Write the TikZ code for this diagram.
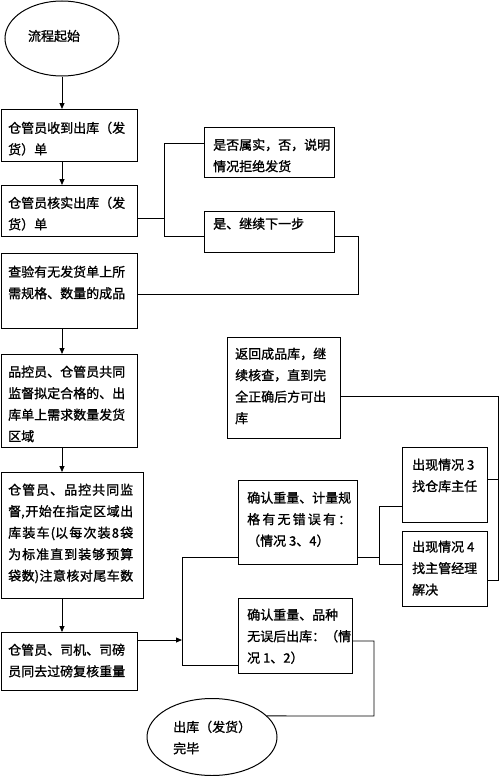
\documentclass[tikz,border=0pt]{standalone}
\usepackage{fontspec}
\newfontfamily\cjk[FakeBold=1.2]{Noto Sans CJK SC}
\usetikzlibrary{shapes.geometric,arrows.meta}
\newcommand\spreadline[2]{\makebox[#1][s]{#2}}
\begin{document}
\begin{tikzpicture}[x=1pt,y=-1pt,
  box/.style={draw, line width=1pt, rectangle, inner sep=0, anchor=north west},
  oval/.style={draw, line width=1pt, ellipse, inner sep=0},
  txt/.style={font=\cjk\fontsize{13}{21.5}\selectfont, align=left, anchor=north west, inner sep=0},
  conn/.style={line width=0.8pt},
  arr/.style={line width=0.8pt, -{Triangle[length=6pt,width=5pt]}}]
\useasboundingbox (0,0) rectangle (500,776);
% shapes
\node[oval, minimum width=114, minimum height=75] (start) at (62,38.5) {};
\node[box, minimum width=136, minimum height=52] (b1) at (1,109) {};
\node[box, minimum width=136, minimum height=51] (b2) at (1,185) {};
\node[box, minimum width=136, minimum height=75] (b3) at (1,253) {};
\node[box, minimum width=136, minimum height=93] (b4) at (1,354) {};
\node[box, minimum width=142, minimum height=126] (b5) at (1,472) {};
\node[box, minimum width=136, minimum height=58] (b6) at (1,632) {};
\node[box, minimum width=130, minimum height=50] (A) at (204,127) {};
\node[box, minimum width=130, minimum height=41] (B) at (204,211) {};
\node[box, minimum width=113, minimum height=101] (G) at (227,337) {};
\node[box, minimum width=119, minimum height=84] (C) at (238,480) {};
\node[box, minimum width=114, minimum height=75] (D) at (238,598) {};
\node[box, minimum width=85, minimum height=75] (E) at (402,447) {};
\node[box, minimum width=85, minimum height=75] (F) at (402,531) {};
\node[oval, minimum width=130, minimum height=77] (end) at (212,737) {};
% texts
\node[txt, anchor=center] (tstart) at (54,36) {流程起始};
\node[txt] (t1) at (8,121.5) {仓管员收到出库（发\\货）单};
\node[txt] (t2) at (8,196.5) {仓管员核实出库（发\\货）单};
\node[txt] (t3) at (8,265.5) {查验有无发货单上所\\需规格、数量的成品};
\node[txt] (t4) at (8,365.5) {品控员、仓管员共同\\监督拟定合格的、出\\库单上需求数量发货\\区域};
\node[txt] (t5) at (8,483.5) {\spreadline{125pt}{仓\hfill 管\hfill 员\hfill 、\hfill 品\hfill 控\hfill 共\hfill 同\hfill 监}\\\spreadline{125pt}{督,\hfill 开\hfill 始\hfill 在\hfill 指\hfill 定\hfill 区\hfill 域\hfill 出}\\\spreadline{125pt}{库\hfill 装\hfill 车\hfill (以\hfill 每\hfill 次\hfill 装\hfill 8\hfill 袋}\\\spreadline{125pt}{为\hfill 标\hfill 准\hfill 直\hfill 到\hfill 装\hfill 够\hfill 预\hfill 算}\\\spreadline{125pt}{袋\hfill 数)\hfill 注\hfill 意\hfill 核\hfill 对\hfill 尾\hfill 车\hfill 数}};
\node[txt] (t6) at (8,643.5) {仓管员、司机、司磅\\员同去过磅复核重量};
\node[txt] (tA) at (213,138.5) {是否属实，否，说明\\情况拒绝发货};
\node[txt] (tB) at (213,217.5) {是、继续下一步};
\node[txt] (tG) at (235,347.5) {返回成品库，继\\续核查，直到完\\全正确后方可出\\库};
\node[txt] (tC) at (247,491.5) {确认重量、计量规\\\spreadline{104pt}{格\hfill 有\hfill 无\hfill 错\hfill 误\hfill 有\hfill ：}\\（情况 3、4）};
\node[txt] (tD) at (247,608.5) {确认重量、品种\\无误后出库：（情\\况 1、2）};
\node[txt] (tE) at (412,458.5) {出现情况 3\\找仓库主任};
\node[txt] (tF) at (412,540.5) {出现情况 4\\找主管经理\\解决};
\node[txt] (tend) at (173,720.5) {出库（发货）\\完毕};
% main column arrows
\coordinate (ax) at (62,0);
\draw[arr] (start.south) -- (start.south |- b1.north);
\draw[arr] (b1.south -| ax) -- (b2.north -| ax);
\draw[arr] (b3.south -| ax) -- (b4.north -| ax);
\draw[arr] (b4.south -| ax) -- (b5.north -| ax);
\draw[arr] (b5.south -| ax) -- (b6.north -| ax);
% verify branch
\coordinate (j1) at (164,218);
\coordinate (jA) at (164,143);
\coordinate (jB) at (164,236);
\draw[conn] (b2.east |- j1) -- (j1);
\draw[conn] (A.west |- jA) -- (jA) -- (jB) -- (B.west |- jB);
\coordinate (k1) at (358,236);
\coordinate (k2) at (358,294);
\draw[conn] (B.east |- k1) -- (k1) -- (k2) -- (b3.east |- k2);
% weighing branch
\coordinate (m1) at (182,640);
\coordinate (m2) at (182,557);
\coordinate (m3) at (182,665);
\draw[arr] (b6.east |- m1) -- (m1);
\draw[conn] (C.west |- m2) -- (m2) -- (m3) -- (D.west |- m3);
\coordinate (n0) at (379,557);
\coordinate (n1) at (379,506);
\coordinate (n2) at (379,564);
\draw[conn] (C.east |- n0) -- (n0);
\draw[conn] (E.west |- n1) -- (n1) -- (n2) -- (F.west |- n2);
\coordinate (p0) at (498,396);
\coordinate (p1) at (498,479);
\coordinate (p2) at (498,580);
\draw[conn] (E.east |- p1) -- (p1);
\draw[conn] (F.east |- p2) -- (p2) -- (p0) -- (G.east |- p0);
\coordinate (q1) at (374,641);
\coordinate (q2) at (374,716);
\draw[conn] (D.east |- q1) -- (q1) -- (q2) -- (end.21);
\end{tikzpicture}
\end{document}
